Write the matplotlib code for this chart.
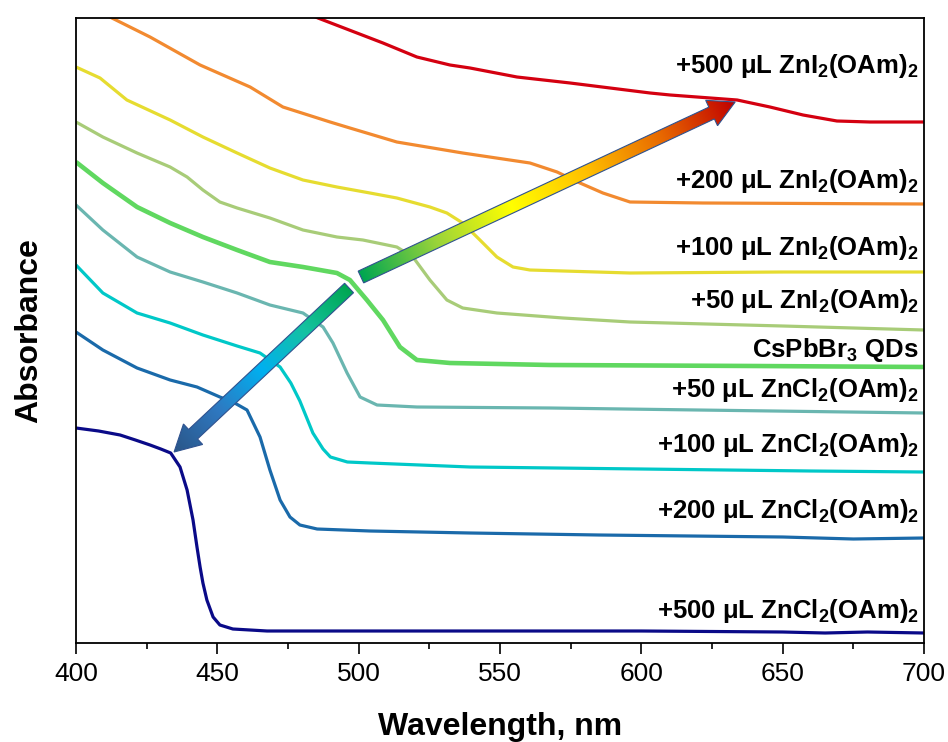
import numpy as np
import matplotlib.pyplot as plt
from matplotlib.colors import LinearSegmentedColormap
from matplotlib.patches import Polygon

plt.rcParams['font.family'] = ['Liberation Sans', 'DejaVu Sans']
plt.rcParams['mathtext.fontset'] = 'custom'
plt.rcParams['mathtext.rm'] = 'Liberation Sans:bold'
plt.rcParams['mathtext.it'] = 'Liberation Sans:bold'
plt.rcParams['mathtext.bf'] = 'Liberation Sans:bold'
plt.rcParams['mathtext.default'] = 'rm'

# absorbance spectra (offset, a.u.)
wl_cl500 = [400, 408, 415.6, 421, 426.2, 430, 433.5, 436.8, 439.3, 441.4, 442.8, 443.9, 444.9,
            446.3, 448.5, 450.9, 455.5, 467.6, 500, 550, 600, 650, 665, 680, 700]
ab_cl500 = [2.15, 2.12, 2.08, 2.03, 1.98, 1.94, 1.90, 1.76, 1.53, 1.23, 0.96, 0.76, 0.60,
            0.43, 0.26, 0.18, 0.14, 0.12, 0.12, 0.12, 0.12, 0.11, 0.10, 0.11, 0.10]

wl_cl200 = [400, 409.5, 421.6, 433.3, 442.8, 450.9, 455.5, 460.5, 465.1, 468.6, 472.2, 475.7,
            479.2, 485.3, 504, 539.4, 585, 650, 675, 700]
ab_cl200 = [3.11, 2.93, 2.75, 2.63, 2.56, 2.46, 2.41, 2.33, 2.06, 1.73, 1.43, 1.26,
            1.18, 1.14, 1.12, 1.10, 1.08, 1.06, 1.04, 1.05]

wl_cl100 = [400, 409.5, 421.6, 433.3, 444.9, 457, 465.1, 472.2, 476, 479.2, 483.8, 487.4,
            490, 496, 504, 539.4, 600, 660, 700]
ab_cl100 = [3.78, 3.50, 3.30, 3.20, 3.08, 2.97, 2.90, 2.76, 2.60, 2.42, 2.10, 1.94,
            1.86, 1.81, 1.80, 1.76, 1.74, 1.72, 1.71]

wl_cl50 = [400, 409.5, 421.6, 433.3, 444.9, 457, 468.6, 480.3, 487.4, 490.9, 495.9, 500.5,
           506.5, 520.6, 567.7, 620, 700]
ab_cl50 = [4.38, 4.13, 3.86, 3.71, 3.61, 3.50, 3.38, 3.30, 3.16, 3.00, 2.70, 2.46,
           2.38, 2.36, 2.35, 2.33, 2.30]

wl_qd = [400, 409.5, 421.6, 433.3, 444.9, 457, 468.6, 480.3, 492.3, 496.9, 502.9, 508.6,
         514.6, 520.6, 532.3, 567.7, 640, 700]
ab_qd = [4.81, 4.60, 4.36, 4.20, 4.06, 3.93, 3.81, 3.76, 3.70, 3.63, 3.43, 3.23,
         2.96, 2.83, 2.80, 2.78, 2.77, 2.76]

wl_i50 = [400, 409.5, 421.6, 433.3, 439.3, 444.9, 450.9, 457, 468.6, 480.3, 492.3, 501.5,
          513.5, 519.2, 525.2, 531.2, 536.8, 548.9, 572.3, 596, 650, 700]
ab_i50 = [5.21, 5.06, 4.90, 4.76, 4.66, 4.53, 4.41, 4.35, 4.25, 4.13, 4.06, 4.03,
          3.96, 3.86, 3.63, 3.43, 3.35, 3.30, 3.25, 3.21, 3.17, 3.13]

wl_i100 = [400, 408.5, 418, 433.3, 444.9, 457, 468.6, 480.3, 492.3, 504, 513.5, 525.2,
           531.2, 536.8, 542.9, 548.9, 554.6, 560.6, 596, 650, 700]
ab_i100 = [5.76, 5.65, 5.43, 5.23, 5.06, 4.90, 4.75, 4.63, 4.56, 4.50, 4.45, 4.36,
           4.30, 4.20, 4.03, 3.86, 3.76, 3.73, 3.70, 3.71, 3.71]

wl_i200 = [400, 412.7, 426.2, 443.9, 461.6, 473.2, 489.9, 496.9, 513.5, 536.8, 560.6, 570.2,
           578.3, 586.4, 596, 621.8, 700]
ab_i200 = [6.45, 6.25, 6.06, 5.78, 5.56, 5.36, 5.21, 5.15, 5.01, 4.90, 4.80, 4.71,
           4.60, 4.50, 4.41, 4.40, 4.39]

wl_i500 = [470, 485.6, 508.6, 520.6, 532.3, 539.4, 556, 574.8, 603.1, 610.2, 633.9, 645.5,
           657.2, 669.2, 680.9, 700]
ab_i500 = [6.45, 6.25, 6.00, 5.86, 5.78, 5.75, 5.66, 5.60, 5.50, 5.48, 5.43, 5.36,
           5.28, 5.22, 5.21, 5.21]

labels = ['+500 μL ZnI$_2$(OAm)$_2$', '+200 μL ZnI$_2$(OAm)$_2$', '+100 μL ZnI$_2$(OAm)$_2$',
          '+50 μL ZnI$_2$(OAm)$_2$', 'CsPbBr$_3$ QDs', '+50 μL ZnCl$_2$(OAm)$_2$',
          '+100 μL ZnCl$_2$(OAm)$_2$', '+200 μL ZnCl$_2$(OAm)$_2$', '+500 μL ZnCl$_2$(OAm)$_2$']
label_y = [5.70, 4.55, 3.88, 3.35, 2.86, 2.46, 1.91, 1.25, 0.25]

series = [
    (wl_i500, ab_i500, '#d40010', 2.3),
    (wl_i200, ab_i200, '#f28a30', 2.3),
    (wl_i100, ab_i100, '#e6dc30', 2.3),
    (wl_i50, ab_i50, '#a8cc78', 2.3),
    (wl_qd, ab_qd, '#60d860', 3.3),
    (wl_cl50, ab_cl50, '#6ab6b0', 2.3),
    (wl_cl100, ab_cl100, '#00c8c8', 2.3),
    (wl_cl200, ab_cl200, '#1a6aaa', 2.3),
    (wl_cl500, ab_cl500, '#0a0a88', 2.3),
]

red_cmap = LinearSegmentedColormap.from_list(
    'g2r', ['#00a651', '#9ad43a', '#ffff00', '#ffc000', '#e86a00', '#c00000'])
blue_cmap = LinearSegmentedColormap.from_list(
    'g2b', ['#00a651', '#14c2a0', '#00b0f0', '#2f78c0', '#2a5688'])


def gradient_arrow(ax, tail, tip, cmap, shaft=13.0, head_w=28.0, head_l=26.0):
    """arrow drawn in pixel space, filled with a gradient along its length"""
    tr = ax.transData
    p0 = tr.transform(tail)
    p1 = tr.transform(tip)
    d = p1 - p0
    L = np.hypot(*d)
    u = d / L
    n = np.array([-u[1], u[0]])
    b = p1 - u * head_l
    pts = np.array([p0 + n * shaft / 2, b + n * shaft / 2, b + n * head_w / 2, p1,
                    b - n * head_w / 2, b - n * shaft / 2, p0 - n * shaft / 2])
    inv = tr.inverted()
    poly = Polygon(inv.transform(pts), closed=True, fc='none', ec='#2f528f',
                   lw=0.8, zorder=6)
    ax.add_patch(poly)
    lo = pts.min(axis=0) - 2
    hi = pts.max(axis=0) + 2
    X, Y = np.meshgrid(np.linspace(lo[0], hi[0], 300), np.linspace(lo[1], hi[1], 300))
    t = ((X - p0[0]) * u[0] + (Y - p0[1]) * u[1]) / L
    img = cmap(np.clip(t, 0, 1))
    (x0, y0), (x1, y1) = inv.transform([lo, hi])
    im = ax.imshow(img, extent=(x0, x1, y0, y1), origin='lower', aspect='auto',
                   zorder=5, interpolation='bilinear')
    im.set_clip_path(poly)


fig = plt.figure(figsize=(9.48, 7.42), dpi=100)
ax = fig.add_axes([76 / 948, 99 / 742, 848 / 948, 625 / 742])

for wl, ab, c, lw in series:
    ax.plot(wl, ab, color=c, lw=lw, solid_joinstyle='round', solid_capstyle='butt')

ax.set_xlim(400, 700)
ax.set_ylim(0, 6.25)
ax.set_autoscale_on(False)
ax.set_yticks([])
ax.set_xticks(range(400, 701, 50))
ax.set_xticks(range(425, 700, 50), minor=True)
ax.tick_params(axis='x', which='major', direction='out', length=8, width=1.2,
               labelsize=19, pad=6)
ax.tick_params(axis='x', which='minor', direction='out', length=4, width=1.2)
for s in ax.spines.values():
    s.set_linewidth(1.3)

ax.set_xlabel('Wavelength, nm', fontsize=23, fontweight='bold')
ax.set_ylabel('Absorbance', fontsize=23, fontweight='bold')
ax.xaxis.set_label_coords(0.5, -0.11)
ax.yaxis.set_label_coords(-0.038, 0.5)

for txt, y in zip(labels, label_y):
    ax.text(0.994, y, txt, transform=ax.get_yaxis_transform(), ha='right',
            va='baseline', fontsize=18.5, fontweight='bold', zorder=7)

gradient_arrow(ax, (500.8, 3.66), (633.2, 5.41), red_cmap)
gradient_arrow(ax, (496.6, 3.55), (434.7, 1.91), blue_cmap)

fig.savefig('out.png', dpi=100)
